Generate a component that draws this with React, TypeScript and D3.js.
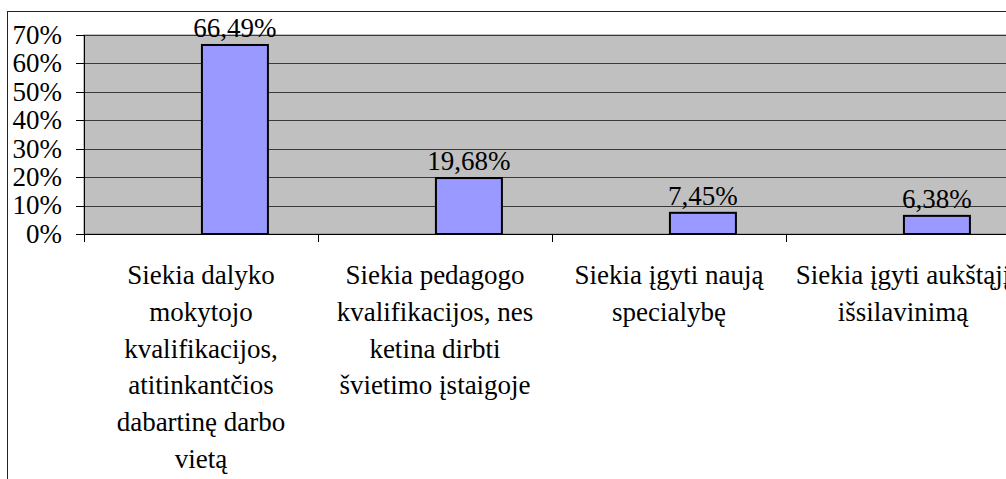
import React from "react";
import * as d3 from "d3";

const categories = ["c1", "c2", "c3", "c4"];
const categoryLabels: string[][] = [
  ["Siekia dalyko", "mokytojo", "kvalifikacijos,", "atitinkantčios", "dabartinę darbo", "vietą"],
  ["Siekia pedagogo", "kvalifikacijos, nes", "ketina dirbti", "švietimo įstaigoje"],
  ["Siekia įgyti naują", "specialybę"],
  ["Siekia įgyti aukštąjį", "išsilavinimą"],
];
const values = [0.6649, 0.1968, 0.0745, 0.0638];
const valueLabels = ["66,49%", "19,68%", "7,45%", "6,38%"];
const yTicks = [0, 0.1, 0.2, 0.3, 0.4, 0.5, 0.6, 0.7];

const W = 1006;
const H = 479;
const FONT = '"Liberation Serif", "Times New Roman", Times, serif';
const FS = 27;

export default function App() {
  const plotLeft = 84;
  const plotRight = 1020;
  const plotTop = 35;
  const plotBottom = 234;

  const x = d3.scaleBand<string>().domain(categories).range([plotLeft, plotRight]).paddingInner(0).paddingOuter(0);
  const y = d3.scaleLinear().domain([0, 0.7]).range([plotBottom, plotTop]);
  const bw = x.bandwidth();
  const fmt = (v: number) => `${Math.round(v * 100)}%`;
  const textStyle = { fontFamily: FONT, fontSize: FS };

  return (
    <svg
      width={W}
      height={H}
      style={{ position: "absolute", left: 0, top: 0, display: "block", background: "#fff", fontFamily: FONT }}
    >
      {/* outer chart border */}
      <rect x={7.5} y={11.5} width={1200} height={700} fill="#fff" stroke="#222" strokeWidth={1} />
      {/* plot area */}
      <rect x={plotLeft} y={plotTop} width={plotRight - plotLeft} height={plotBottom - plotTop} fill="#C0C0C0" stroke="#808080" strokeWidth={1} />
      {/* gridlines */}
      {yTicks.slice(1).map((t) => (
        <line key={t} x1={plotLeft} x2={plotRight} y1={Math.round(y(t)) + 0.5} y2={Math.round(y(t)) + 0.5} stroke="#3a3a3a" strokeWidth={1} />
      ))}
      {/* bars */}
      {categories.map((c, i) => (
        <rect
          key={c}
          x={(x(c) as number) + bw * 0.504}
          y={y(values[i])}
          width={bw * 0.282}
          height={plotBottom - y(values[i])}
          fill="#9999FF"
          stroke="#000"
          strokeWidth={2}
        />
      ))}
      {/* value labels */}
      {categories.map((c, i) => (
        <text
          key={c}
          x={(x(c) as number) + bw * 0.504 + (bw * 0.282) / 2}
          y={y(values[i]) - 8}
          textAnchor="middle"
          style={textStyle}
          fill="#000"
        >
          {valueLabels[i]}
        </text>
      ))}
      {/* y axis */}
      <line x1={plotLeft + 0.5} x2={plotLeft + 0.5} y1={plotTop} y2={plotBottom} stroke="#000" strokeWidth={1} />
      {yTicks.map((t) => (
        <g key={t}>
          <line x1={plotLeft - 8} x2={plotLeft} y1={Math.round(y(t)) + 0.5} y2={Math.round(y(t)) + 0.5} stroke="#000" strokeWidth={1} />
          <text x={62} y={y(t)} dy="0.33em" textAnchor="end" style={textStyle} fill="#000">
            {fmt(t)}
          </text>
        </g>
      ))}
      {/* x axis */}
      <line x1={plotLeft} x2={plotRight} y1={plotBottom + 0.5} y2={plotBottom + 0.5} stroke="#000" strokeWidth={1} />
      {categories.map((c) => (
        <line key={c} x1={(x(c) as number) + 0.5} x2={(x(c) as number) + 0.5} y1={plotBottom} y2={plotBottom + 8} stroke="#000" strokeWidth={1} />
      ))}
      {/* category labels */}
      {categories.map((c, i) => (
        <text key={c} x={(x(c) as number) + bw / 2} y={284} textAnchor="middle" style={textStyle} fill="#000">
          {categoryLabels[i].map((line, j) => (
            <tspan key={j} x={(x(c) as number) + bw / 2} y={284 + j * 36.8}>
              {line}
            </tspan>
          ))}
        </text>
      ))}
    </svg>
  );
}
